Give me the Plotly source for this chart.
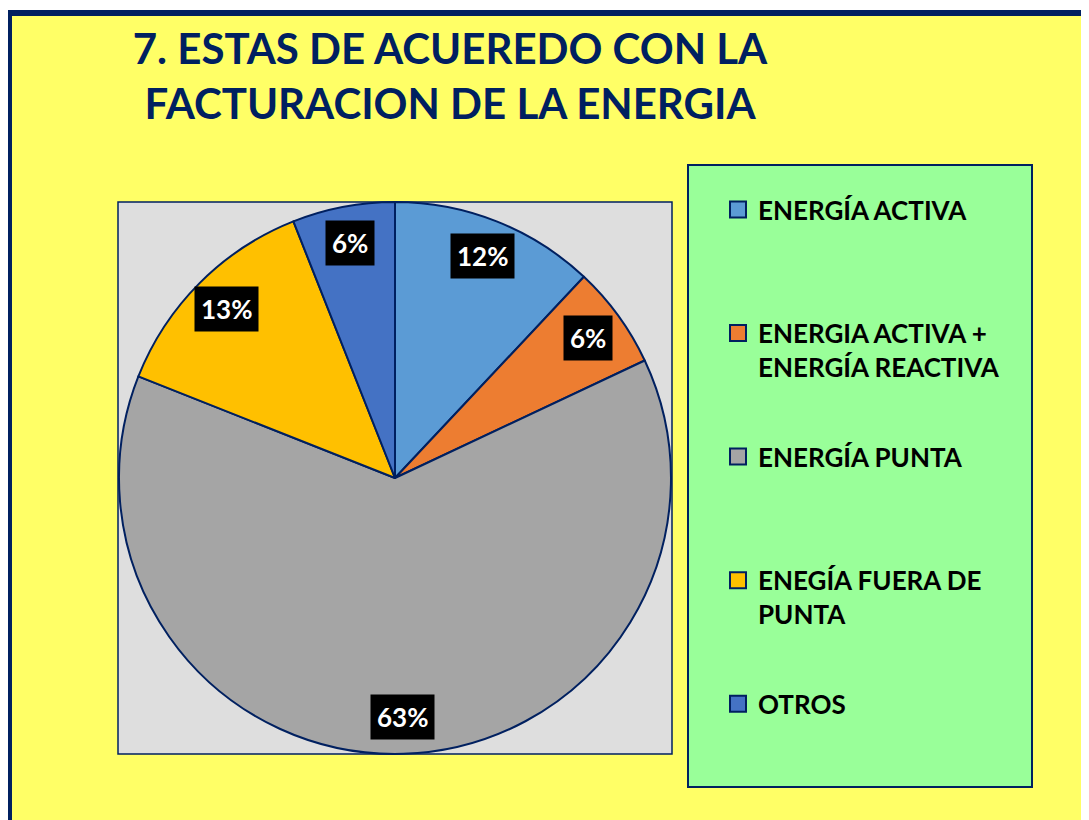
import math
import plotly.graph_objects as go

# ---- data ----
labels = ["ENERGÍA ACTIVA", "ENERGIA ACTIVA +<br>ENERGÍA REACTIVA", "ENERGÍA PUNTA",
          "ENEGÍA FUERA DE<br>PUNTA", "OTROS"]
values = [12, 6, 63, 13, 6]
colors = ["#5B9BD5", "#ED7D31", "#A5A5A5", "#FFC000", "#4472C4"]
title_text = "7. ESTAS DE ACUEREDO CON LA<br>FACTURACION DE LA ENERGIA"

W, H = 1089, 820
OFF = 8  # page body margin
NAVY = "#002060"

# plot area (pixels in the screenshot)
px0, px1, py0, py1 = 118, 672, 202, 754

def fx(p):
    return (p - OFF) / W

def fy(p):
    return 1 - (p - OFF) / H

fig = go.Figure()

fig.add_trace(go.Pie(
    labels=labels, values=values, sort=False, direction="clockwise", rotation=0,
    marker=dict(colors=colors, line=dict(color=NAVY, width=2)),
    textinfo="none", showlegend=False,
    domain=dict(x=[fx(px0), fx(px1)], y=[fy(py1), fy(py0)]),
    hovertemplate="%{label}: %{percent}<extra></extra>",
))

# legend entries (one group per category so spacing can be controlled)
for i, (lab, col) in enumerate(zip(labels, colors)):
    name = lab if "<br>" in lab else lab + "<br> "
    fig.add_trace(go.Scatter(
        x=[None], y=[None], mode="markers", name=name, legendgroup=f"g{i}",
        marker=dict(symbol="square", size=16, color=col, line=dict(color=NAVY, width=2)),
        hoverinfo="skip",
    ))

# percent labels positioned from the data
total = sum(values)
cx = (px0 + px1) / 2
cy = (py0 + py1) / 2
R = min(px1 - px0, py1 - py0) / 2
cum = 0
annotations = []
for v in values:
    mid = (cum + v / 2) / total * 2 * math.pi
    cum += v
    r = 0.865 * R
    x = cx + r * math.sin(mid)
    y = cy - r * math.cos(mid)
    annotations.append(dict(
        x=fx(x), y=fy(y), xref="paper", yref="paper", showarrow=False,
        xanchor="center", yanchor="middle",
        text=f"{round(v / total * 100)}%",
        font=dict(family="Lato", size=26, color="white", weight="bold"),
        bgcolor="black", borderpad=6,
    ))

shapes = [
    dict(type="rect", xref="paper", yref="paper", x0=fx(9), x1=fx(1120), y0=fy(850), y1=fy(13),
         fillcolor="#FFFF66", line=dict(color=NAVY, width=6), layer="below"),
    dict(type="rect", xref="paper", yref="paper", x0=fx(px0), x1=fx(px1), y0=fy(py1), y1=fy(py0),
         fillcolor="#DEDEDE", line=dict(color=NAVY, width=1.5), layer="below"),
    dict(type="rect", xref="paper", yref="paper", x0=fx(688), x1=fx(1032), y0=fy(787), y1=fy(165),
         fillcolor="#99FF99", line=dict(color=NAVY, width=2), layer="below"),
]

fig.update_layout(
    width=W, height=H, autosize=False,
    margin=dict(l=0, r=0, t=0, b=0),
    paper_bgcolor="white", plot_bgcolor="rgba(0,0,0,0)",
    title=dict(text=title_text, x=fx(450), xanchor="center", y=fy(64), yanchor="middle",
               yref="container",
               font=dict(family="Lato", size=42, color=NAVY, weight="bold")),
    xaxis=dict(visible=False), yaxis=dict(visible=False),
    legend=dict(x=fx(718), xanchor="left", y=fy(186), yanchor="top",
                bgcolor="rgba(0,0,0,0)", borderwidth=0, valign="top",
                tracegroupgap=53,
                font=dict(family="Lato", size=26, color="black", weight="bold")),
    shapes=shapes, annotations=annotations,
)

fig.write_html("out.html")
